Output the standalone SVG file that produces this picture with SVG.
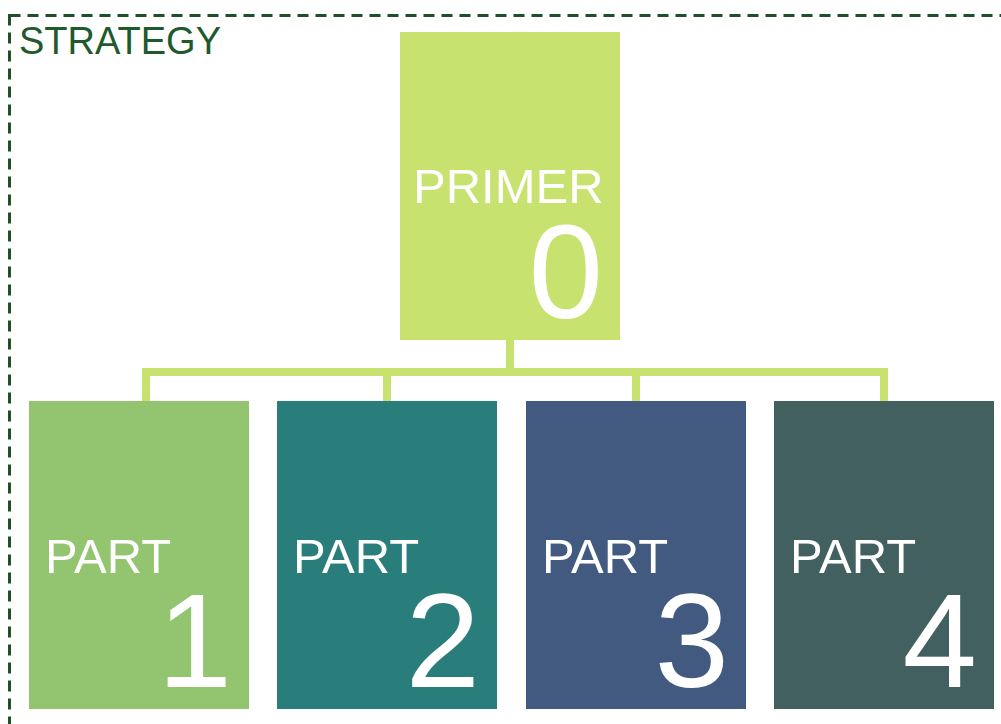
<svg xmlns="http://www.w3.org/2000/svg" width="1001" height="724" viewBox="0 0 1001 724">
  <style>
    .lbl { font-family: "Liberation Sans", Arial, sans-serif; fill: #ffffff; }
    .word { font-size: 49px; }
    .num { font-size: 134px; text-anchor: end; }
    .conn { fill: none; stroke: #C8E270; stroke-width: 8; stroke-linejoin: miter; stroke-linecap: butt; }
  </style>
  <rect width="1001" height="724" fill="#ffffff"/>
  <g id="frame">
    <rect x="9.5" y="15.5" width="1020" height="740" fill="none" stroke="#1E5128" stroke-width="3" stroke-dasharray="11 7"/>
    <text x="19" y="54" font-family="Liberation Sans, Arial, sans-serif" font-size="38" fill="#215A2A">STRATEGY</text>
  </g>
  <g id="connectors">
    <path class="conn" d="M510 340 V372 M146 401 V372 H884 V401 M387 372 V401 M636 372 V401"/>
  </g>
  <g id="primer">
    <rect x="400" y="32" width="220" height="308" fill="#C8E270"/>
    <text class="lbl" x="413" y="203" font-size="49">PRIMER</text>
    <text class="lbl num" x="603" y="318">0</text>
  </g>
  <g id="part1">
    <rect x="29" y="401" width="220" height="308" fill="#93C46F"/>
    <text class="lbl word" x="45" y="573">PART</text>
    <text class="lbl num" x="232" y="687">1</text>
  </g>
  <g id="part2">
    <rect x="277" y="401" width="220" height="308" fill="#297D7B"/>
    <text class="lbl word" x="293" y="573">PART</text>
    <text class="lbl num" x="480" y="687">2</text>
  </g>
  <g id="part3">
    <rect x="526" y="401" width="220" height="308" fill="#425A80"/>
    <text class="lbl word" x="542" y="573">PART</text>
    <text class="lbl num" x="729" y="687">3</text>
  </g>
  <g id="part4">
    <rect x="774" y="401" width="220" height="308" fill="#426060"/>
    <text class="lbl word" x="790" y="573">PART</text>
    <text class="lbl num" x="977" y="687">4</text>
  </g>
</svg>
